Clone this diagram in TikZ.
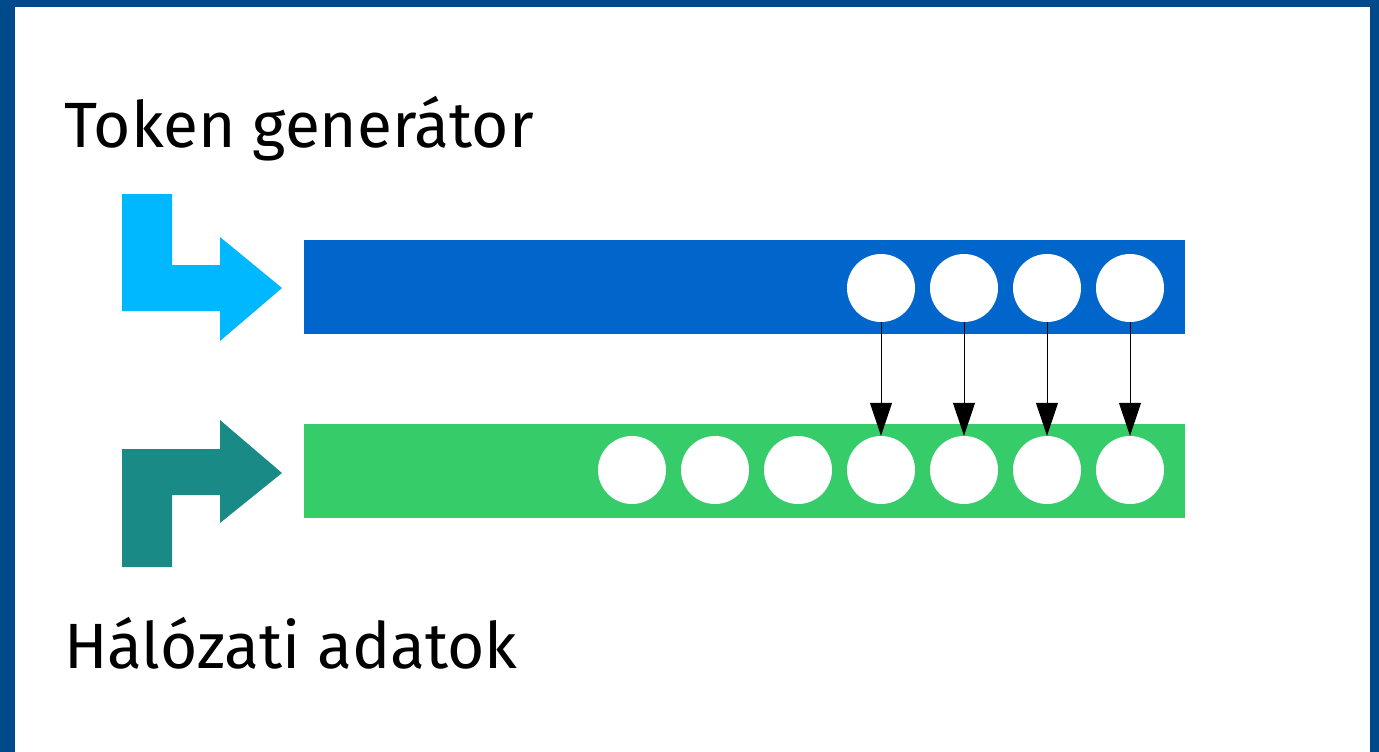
\documentclass[tikz,border=0pt]{standalone}
\usepackage{fontspec}
\setmainfont{Fira Sans}
\usetikzlibrary{arrows.meta}

\definecolor{frameblue}{HTML}{004A8C}
\definecolor{tokenblue}{HTML}{0066CC}
\definecolor{tokencyan}{HTML}{00B8FF}
\definecolor{datagreen}{HTML}{36CC6A}
\definecolor{datateal}{HTML}{1A8A87}

\begin{document}
\begin{tikzpicture}[x=1pt, y=-1pt, >={Triangle[length=33pt, width=22pt]},
    packet/.style={circle, fill=white, minimum size=68pt, inner sep=0pt},
    bucket/.style={minimum width=881pt, minimum height=94pt, inner sep=0pt, anchor=north west},
    label/.style={anchor=base west, inner xsep=0pt, font=\fontsize{64}{76}\selectfont}]
  % Define spacing and row heights
  \def\d{83}
  \def\ytok{288}
  \def\ydat{470}

  % --- Frame ---
  \fill[frameblue] (0,0) rectangle (1379,752);
  \fill[white] (15,7) rectangle (1370,752);
  \useasboundingbox (0,0) rectangle (1379,752);

  % --- Labels ---
  \node[label] (toklbl) at (64,147) {Token generátor};
  \node[label] (datlbl) at (64,668) {Hálózati adatok};

  % --- Input arrows ---
  \fill[tokencyan] (122,194) -- (172,194) -- (172,265) -- (220,265) -- (220,237)
    -- (282,288) -- (220,341) -- (220,311) -- (122,311) -- cycle;
  \fill[datateal] (122,567) -- (172,567) -- (172,495) -- (220,495) -- (220,523)
    -- (282,473) -- (220,420) -- (220,449) -- (122,449) -- cycle;

  % --- Buckets ---
  \node[bucket, fill=tokenblue] (tokbar) at (304,240) {};
  \node[bucket, fill=datagreen] (datbar) at (304,424) {};

  % --- Tokens and packets ---
  \foreach \i in {1,...,4}
    \node[packet] (t\i) at (881+\i*\d-\d, \ytok) {};
  \foreach \i in {1,...,7}
    \node[packet] (p\i) at (632+\i*\d-\d, \ydat) {};

  % Each token releases one packet
  \foreach \i/\j in {1/4, 2/5, 3/6, 4/7}
    \draw[->, line width=1pt] (t\i) -- (p\j);

\end{tikzpicture}
\end{document}
